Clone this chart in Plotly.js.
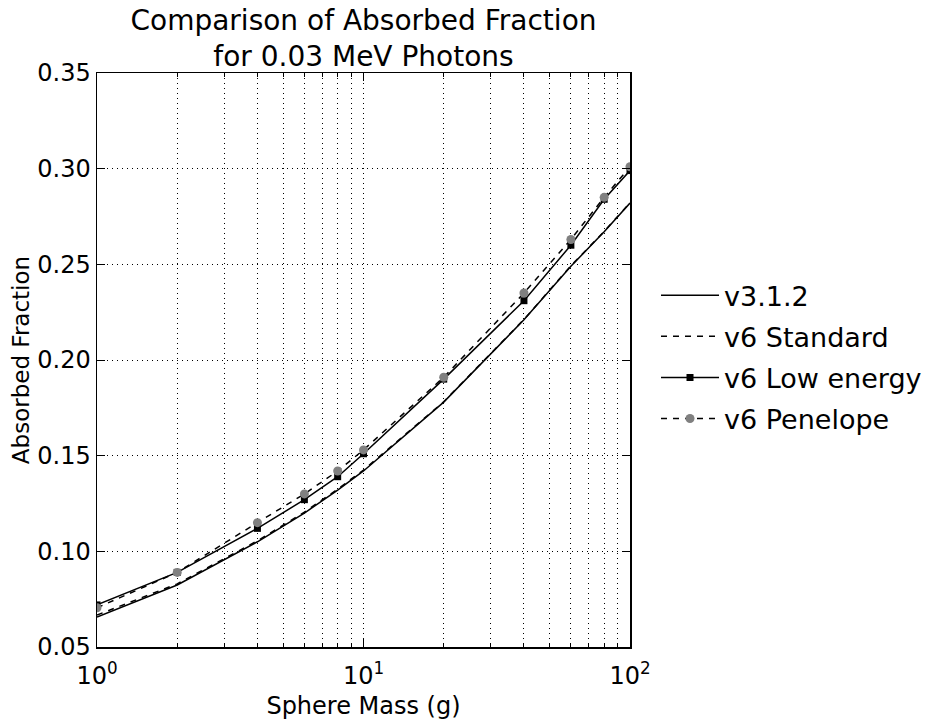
<!DOCTYPE html>
<html>
<head>
<meta charset="utf-8">
<script src="https://cdn.plot.ly/plotly-3.0.1.min.js"></script>
<style>html,body{margin:0;padding:0;background:#fff;}#chart{width:942px;height:720px;}</style>
</head>
<body>
<div id="chart"></div>
<script>
// Sphere masses (g)
const mass = [1, 2, 4, 6, 8, 10, 20, 40, 60, 80, 100];
// Absorbed fractions
const v312 = [0.0657, 0.0824, 0.105, 0.120, 0.132, 0.142, 0.178, 0.221, 0.249, 0.267, 0.282];
const v6Standard = [0.0667, 0.0830, 0.1055, 0.1205, 0.1325, 0.1425, 0.1782, 0.2212, 0.2492, 0.2672, 0.2822];
const v6LowEnergy = [0.072, 0.089, 0.112, 0.127, 0.139, 0.151, 0.190, 0.231, 0.260, 0.284, 0.299];
const v6Penelope = [0.0705, 0.089, 0.115, 0.130, 0.142, 0.153, 0.191, 0.235, 0.263, 0.285, 0.301];
const seriesNames = ['v3.1.2', 'v6 Standard', 'v6 Low energy', 'v6 Penelope'];
const yTicks = [0.05, 0.10, 0.15, 0.20, 0.25, 0.30, 0.35];
const xTicks = [1, 10, 100];
const xTickText = ['10<sup>0</sup>', '10<sup>1</sup>', '10<sup>2</sup>'];

const FONT = 'DejaVu Sans, Verdana, sans-serif';

const traces = [
  {x: mass, y: v312, name: seriesNames[0], mode: 'lines',
   line: {color: '#000', width: 1.5}},
  {x: mass, y: v6Standard, name: seriesNames[1], mode: 'lines',
   line: {color: '#000', width: 1.5, dash: '6px,6px'}},
  {x: mass, y: v6LowEnergy, name: seriesNames[2], mode: 'lines+markers',
   line: {color: '#000', width: 1.5},
   marker: {symbol: 'square', size: 7, color: '#000'}},
  {x: mass, y: v6Penelope, name: seriesNames[3], mode: 'lines+markers',
   line: {color: '#000', width: 1.5, dash: '6px,6px'},
   marker: {symbol: 'circle', size: 9, color: '#808080'}}
].map((t, i) => Object.assign(t, {type: 'scatter', legendgroup: 'g' + i, cliponaxis: true}));

const layout = {
  width: 942, height: 720,
  margin: {l: 97, r: 312, t: 73, b: 73, pad: 0},
  paper_bgcolor: '#fff', plot_bgcolor: '#fff',
  font: {family: FONT, size: 24, color: '#000'},
  title: {
    text: 'Comparison of Absorbed Fraction<br>for 0.03 MeV Photons',
    x: 0.5, xref: 'paper', xanchor: 'center',
    y: 0.959, yref: 'container', yanchor: 'top',
    font: {family: FONT, size: 28, color: '#000'}
  },
  showlegend: true,
  legend: {
    x: 1.0488, xanchor: 'left', y: 0.505, yanchor: 'middle',
    font: {family: FONT, size: 27, color: '#000'},
    bgcolor: 'rgba(0,0,0,0)', borderwidth: 0,
    tracegroupgap: 3, itemwidth: 58
  },
  xaxis: {
    type: 'log', range: [0, 2],
    tickvals: xTicks, ticktext: xTickText,
    ticks: 'inside', ticklen: 8, tickwidth: 1, tickcolor: '#000',
    ticklabelstandoff: 7,
    showline: true, linecolor: '#000', linewidth: 1.5, mirror: 'ticks',
    showgrid: true, gridcolor: '#000', gridwidth: 1, griddash: '1px,4px',
    zeroline: false,
    minor: {dtick: 'D1', ticks: 'inside', ticklen: 4, tickwidth: 1, tickcolor: '#000',
            showgrid: true, gridcolor: '#000', gridwidth: 1, griddash: '1px,4px'},
    tickfont: {family: FONT, size: 24, color: '#000'},
    title: {text: 'Sphere Mass (g)', standoff: 9, font: {family: FONT, size: 24, color: '#000'}},
    automargin: false
  },
  yaxis: {
    range: [0.05, 0.35],
    tickvals: yTicks, tickformat: '.2f',
    ticks: 'inside', ticklen: 8, tickwidth: 1, tickcolor: '#000',
    showline: true, linecolor: '#000', linewidth: 1.5, mirror: 'ticks',
    showgrid: true, gridcolor: '#000', gridwidth: 1, griddash: '1px,4px',
    zeroline: false,
    tickfont: {family: FONT, size: 24, color: '#000'},
    title: {text: 'Absorbed Fraction', standoff: 1, font: {family: FONT, size: 23, color: '#000'}},
    automargin: false
  }
};

Plotly.newPlot('chart', traces, layout, {displayModeBar: false, staticPlot: true});
</script>
</body>
</html>
